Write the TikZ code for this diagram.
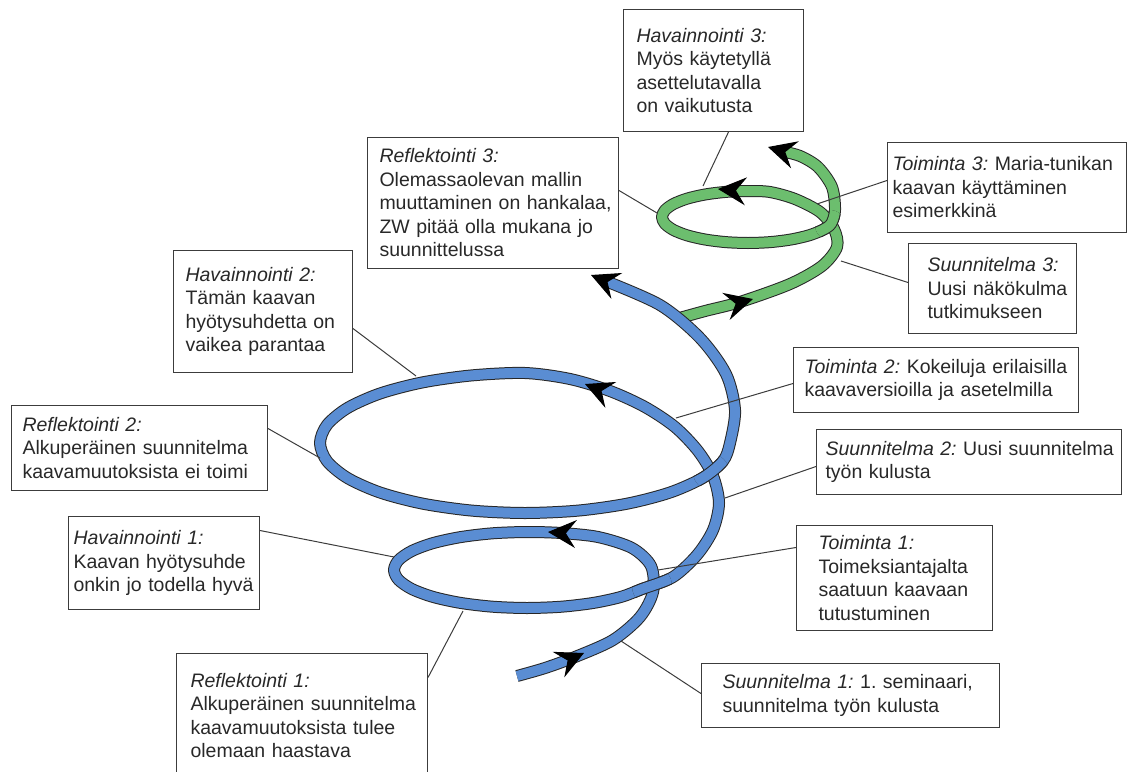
\documentclass[tikz,border=0pt]{standalone}
\usepackage{fontspec}
\setmainfont{Liberation Sans}
\usepackage{tikz}
\usetikzlibrary{arrows.meta}
\frenchspacing
\definecolor{tubeblue}{RGB}{90,141,211}
\definecolor{tubegreen}{RGB}{108,190,110}
\definecolor{textgray}{RGB}{40,40,40}
\definecolor{linegray}{RGB}{60,60,60}
\tikzstyle{box} = [draw=linegray, line width=1pt, rectangle, anchor=north west, align=left, inner xsep=0pt, inner ysep=0pt, text=textgray, font=\fontsize{19.5}{23.5}\selectfont]
\tikzset{lpad/.style={execute at begin node={\leftskip=#1}}}
\tikzstyle{leader} = [draw=linegray, line width=1pt]
\tikzstyle{tube} = [line width=1pt, draw=black!85, double distance=10pt, line cap=butt, line join=round]
\tikzstyle{bluetube} = [tube, double=tubeblue]
\tikzstyle{greentube} = [tube, double=tubegreen]
\tikzstyle{spiralhead} = [line width=1pt, -{Stealth[length=28pt, width=28pt, inset=10pt, color=black]}]

\begin{document}
\begin{tikzpicture}[x=1pt, y=-1pt]
    \useasboundingbox (0,0) rectangle (1127,771);

    % Green part of the spiral.
    \draw [greentube] plot [smooth] coordinates {(676,319) (705,311) (740,302) (790,284) (822,266) (837,247) (834,229) (820,212) (795,199) (770,192) (748,191) (725.7,191.9) (705,194.5) (687.2,198.6) (673.5,204) (664.9,210.3) (662,217) (664.9,223.7) (673.5,230) (687.2,235.4) (705,239.5) (725.7,242.1) (748,243) (770.3,242.1) (791,239.5) (808.8,235.4) (822.5,230) (831.1,223.7) (835,210) (832,187) (818,167) (800,156) (781,151)};
    \begin{scope}
        \clip (830,225) circle (15pt);
        \draw [greentube] plot [smooth] coordinates {(791,239.5) (808.8,235.4) (822.5,230) (831.1,223.7) (835,210) (832,187) (818,167)};
    \end{scope}

    % Blue part of the spiral.
    \draw [bluetube] plot [smooth] coordinates {(517,676) (545,668) (575,657) (613,640) (640,617) (653,592) (651,566) (632,548) (598,537) (561,533) (527,532) (492.6,533.3) (460.5,537.1) (433,543.1) (411.8,551) (398.5,560.2) (394,570) (398.5,579.8) (411.8,589) (433,596.9) (460.5,602.9) (492.6,606.7) (527,608) (561.4,606.7) (593.5,602.9) (621,596.9) (642,589) (673,577) (697,555) (713,530) (719,503) (713,476) (698,451) (675,427) (645,407) (610,391) (570,379) (525,373) (471.9,375.4) (422.5,382.4) (380,393.5) (347.5,408) (327,424.9) (320,443) (327,461.1) (347.5,478) (380,492.5) (422.5,503.6) (471.9,510.6) (525,513) (578.1,510.6) (627.5,503.6) (670,492.5) (702.5,478) (723,461.1) (730,443) (735,410) (726,374) (700,338) (660,305) (603,280)};
    \begin{scope}
        \clip (652,586) circle (20pt);
        \draw [bluetube] plot [smooth] coordinates {(561.4,606.7) (593.5,602.9) (621,596.9) (642,589) (673,577) (697,555) (713,530)};
    \end{scope}
    \begin{scope}
        \clip (711,472) circle (18pt);
        \draw [bluetube] plot [smooth] coordinates {(627.5,503.6) (670,492.5) (702.5,478) (723,461.1) (730,443) (735,410)};
    \end{scope}

    % Arrow heads.
    \draw [spiralhead, draw=tubeblue] (558.5,664.6) -- (584,653);
    \draw [spiralhead, draw=tubeblue] (576,534) -- (548,532);
    \draw [spiralhead, draw=tubeblue] (611,395) -- (585,384);
    \draw [spiralhead, draw=tubeblue] (617,286) -- (591,275);
    \draw [spiralhead, draw=tubegreen] (726,306.4) -- (753,299);
    \draw [spiralhead, draw=tubegreen] (746,191.3) -- (718,189);
    \draw [spiralhead, draw=tubegreen] (795,154.8) -- (768,147);

    % Points on the spiral.
    \coordinate (hav3pt) at (703,186);
    \coordinate (ref3pt) at (657,213);
    \coordinate (toi3pt) at (817,204);
    \coordinate (suu3pt) at (841,261);
    \coordinate (hav2pt) at (416,376);
    \coordinate (toi2pt) at (676,418);
    \coordinate (ref2pt) at (320,458);
    \coordinate (suu2pt) at (725,498);
    \coordinate (hav1pt) at (394,557);
    \coordinate (toi1pt) at (658,570);
    \coordinate (ref1pt) at (463,611);
    \coordinate (suu1pt) at (621,641);

    % Boxes.
    \node (hav3) [box, text width=180pt, minimum height=122pt, lpad=13pt] at (623,9) {\textit{Havainnointi 3:}\\Myös käytetyllä\\asettelutavalla\\on vaikutusta};
    \node (ref3) [box, text width=251pt, minimum height=131pt, lpad=12pt] at (367,137) {\textit{Reflektointi 3:}\\Olemassaolevan mallin\\muuttaminen on hankalaa,\\ZW pitää olla mukana jo\\suunnittelussa};
    \node (toi3) [box, text width=239pt, minimum height=90pt, lpad=5pt] at (887,142) {\textit{Toiminta 3:} Maria-tunikan\\kaavan käyttäminen\\esimerkkinä};
    \node (suu3) [box, text width=168pt, minimum height=90pt, lpad=19pt] at (908,243) {\textit{Suunnitelma 3:}\\Uusi näkökulma\\tutkimukseen};
    \node (hav2) [box, text width=179pt, minimum height=122pt, lpad=12pt] at (173,250) {\textit{Havainnointi 2:}\\Tämän kaavan\\hyötysuhdetta on\\vaikea parantaa};
    \node (toi2) [box, text width=285pt, minimum height=65pt, lpad=11pt] at (793,347) {\textit{Toiminta 2:} Kokeiluja erilaisilla\\kaavaversioilla ja asetelmilla};
    \node (ref2) [box, text width=256pt, minimum height=85pt, lpad=11pt] at (11,405) {\textit{Reflektointi 2:}\\Alkuperäinen suunnitelma\\kaavamuutoksista ei toimi};
    \node (suu2) [box, text width=305pt, minimum height=65pt, lpad=9pt] at (816,429) {\textit{Suunnitelma 2:} Uusi suunnitelma\\työn kulusta};
    \node (hav1) [box, text width=191pt, minimum height=93pt, lpad=5pt] at (68,516) {\textit{Havainnointi 1:}\\Kaavan hyötysuhde\\onkin jo todella hyvä};
    \node (toi1) [box, text width=196pt, minimum height=105pt, lpad=22pt] at (796,525) {\textit{Toiminta 1:}\\Toimeksiantajalta\\saatuun kaavaan\\tutustuminen};
    \node (ref1) [box, text width=251pt, minimum height=124pt, lpad=14pt] at (176,653) {\textit{Reflektointi 1:}\\Alkuperäinen suunnitelma\\kaavamuutoksista tulee\\olemaan haastava};
    \node (suu1) [box, text width=298pt, minimum height=64pt, lpad=21pt] at (701,663) {\textit{Suunnitelma 1:} 1. seminaari,\\suunnitelma työn kulusta};

    % Leaders.
    \draw [leader] ([xshift=15pt]hav3.south) -- (hav3pt);
    \draw [leader] ([yshift=12.5pt]ref3.east) -- (ref3pt);
    \draw [leader] ([yshift=7pt]toi3.west) -- (toi3pt);
    \draw [leader] ([yshift=6pt]suu3.west) -- (suu3pt);
    \draw [leader] ([yshift=-17pt]hav2.east) -- (hav2pt);
    \draw [leader] ([yshift=-3.5pt]toi2.west) -- (toi2pt);
    \draw [leader] ([yshift=19.5pt]ref2.east) -- (ref2pt);
    \draw [leader] ([yshift=-4.5pt]suu2.west) -- (suu2pt);
    \draw [leader] ([yshift=32.5pt]hav1.east) -- (hav1pt);
    \draw [leader] ([yshift=30.5pt]toi1.west) -- (toi1pt);
    \draw [leader] ([yshift=38pt]ref1.east) -- (ref1pt);
    \draw [leader] ([yshift=2pt]suu1.west) -- (suu1pt);
\end{tikzpicture}
\end{document}
